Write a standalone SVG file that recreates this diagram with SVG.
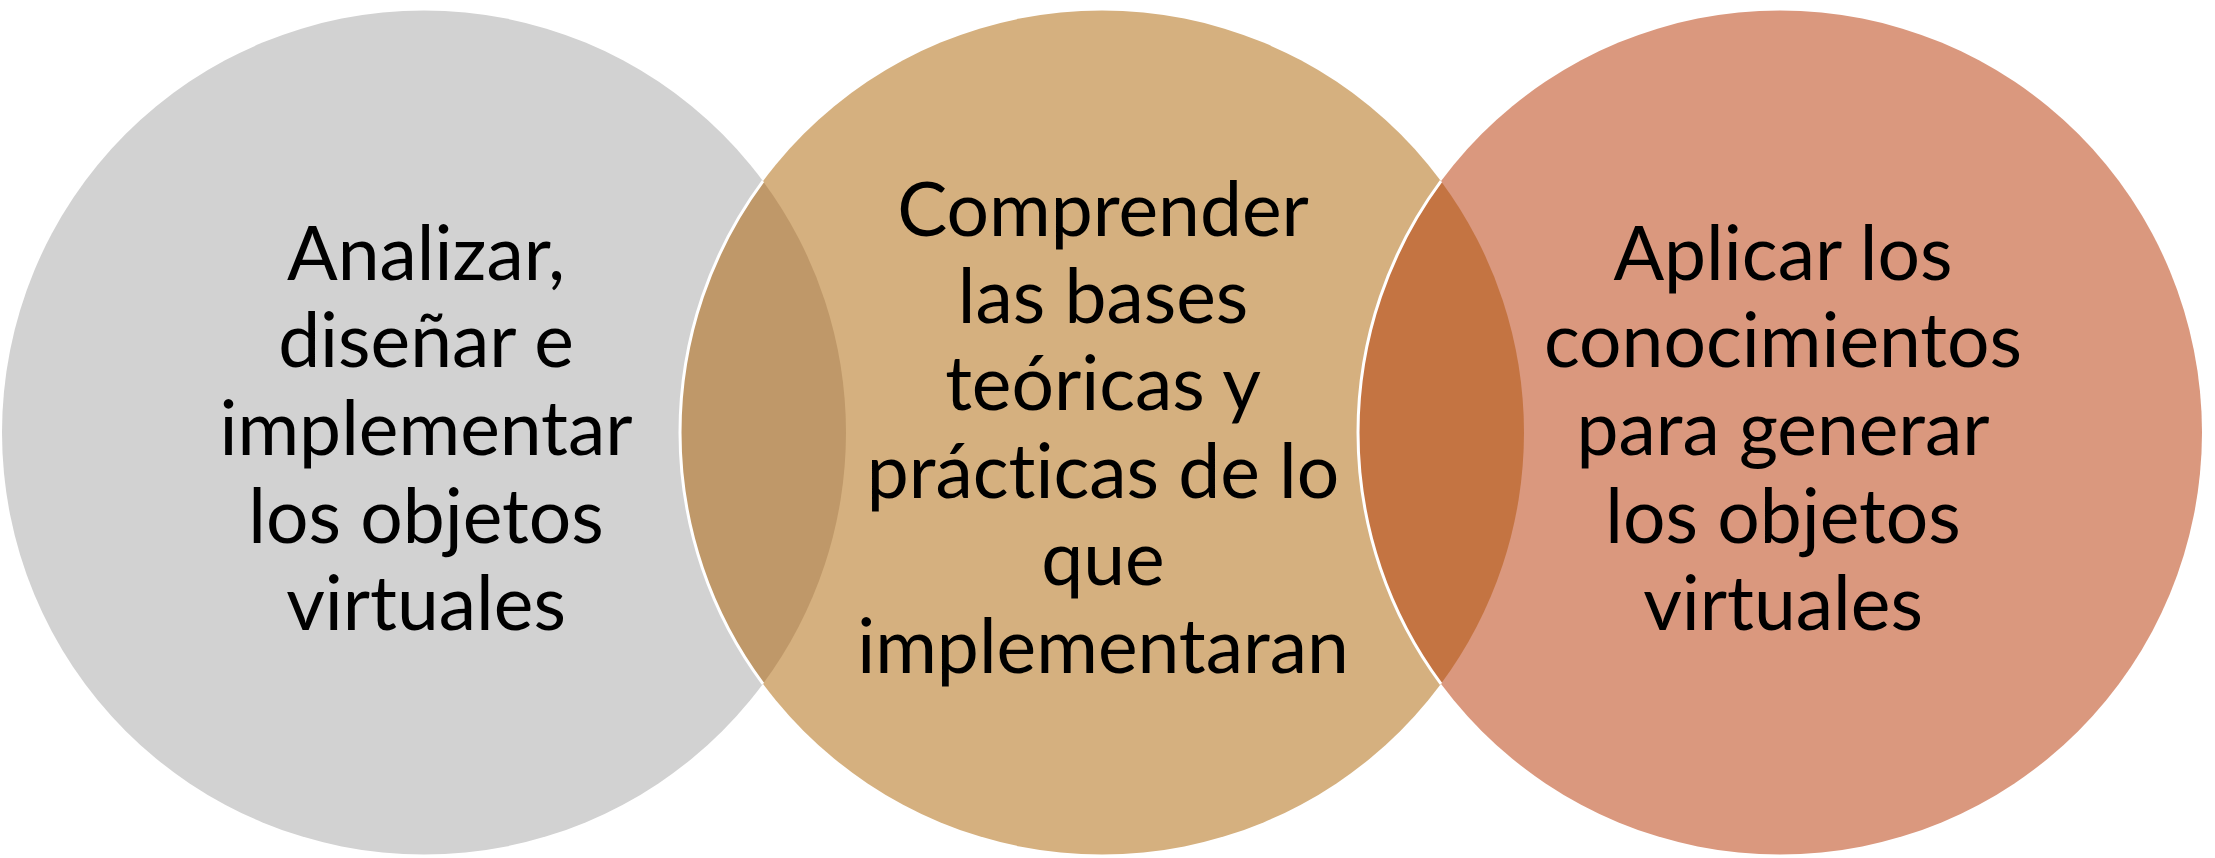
<svg xmlns="http://www.w3.org/2000/svg" width="2215" height="858" viewBox="0 0 2215 858">
<style>
.lbl{font-family:Lato,"Open Sans","Liberation Sans",sans-serif;font-size:75px;fill:#000;text-anchor:middle;font-variant-ligatures:none}
.ring{fill:none;stroke:#fff;stroke-width:3}
</style>
<rect width="2215" height="858" fill="#fff"/>
<g id="circle-left"><circle cx="424" cy="432.5" r="422" fill="#D2D2D2"/></g>
<g id="circle-middle"><circle cx="1102" cy="432.5" r="422" fill="#D5B07F"/></g>
<g id="circle-right"><circle cx="1780" cy="432.5" r="422" fill="#DA987E"/></g>
<g id="overlaps">
<path d="M763 181.2 A422 422 0 0 0 763 683.8 A422 422 0 0 0 763 181.2 Z" fill="#BF9869"/>
<path d="M1441 181.2 A422 422 0 0 0 1441 683.8 A422 422 0 0 0 1441 181.2 Z" fill="#C47442"/>
<path class="ring" d="M763 181.2 A422 422 0 0 0 763 683.8"/>
<path class="ring" d="M1441 181.2 A422 422 0 0 0 1441 683.8"/>
</g>
<g id="text-left">
<text class="lbl" x="426" y="280">Analizar,</text>
<text class="lbl" x="426" y="367">diseñar e</text>
<text class="lbl" x="426" y="455">implementar</text>
<text class="lbl" x="426" y="543">los objetos</text>
<text class="lbl" x="426" y="630">virtuales</text>
</g>
<g id="text-middle">
<text class="lbl" x="1103" y="236">Comprender</text>
<text class="lbl" x="1103" y="323">las bases</text>
<text class="lbl" x="1103" y="410">teóricas y</text>
<text class="lbl" x="1103" y="498">prácticas de lo</text>
<text class="lbl" x="1103" y="585">que</text>
<text class="lbl" x="1103" y="673">implementaran</text>
</g>
<g id="text-right">
<text class="lbl" x="1783" y="280">Aplicar los</text>
<text class="lbl" x="1783" y="367">conocimientos</text>
<text class="lbl" x="1783" y="455">para generar</text>
<text class="lbl" x="1783" y="543">los objetos</text>
<text class="lbl" x="1783" y="630">virtuales</text>
</g>
</svg>
